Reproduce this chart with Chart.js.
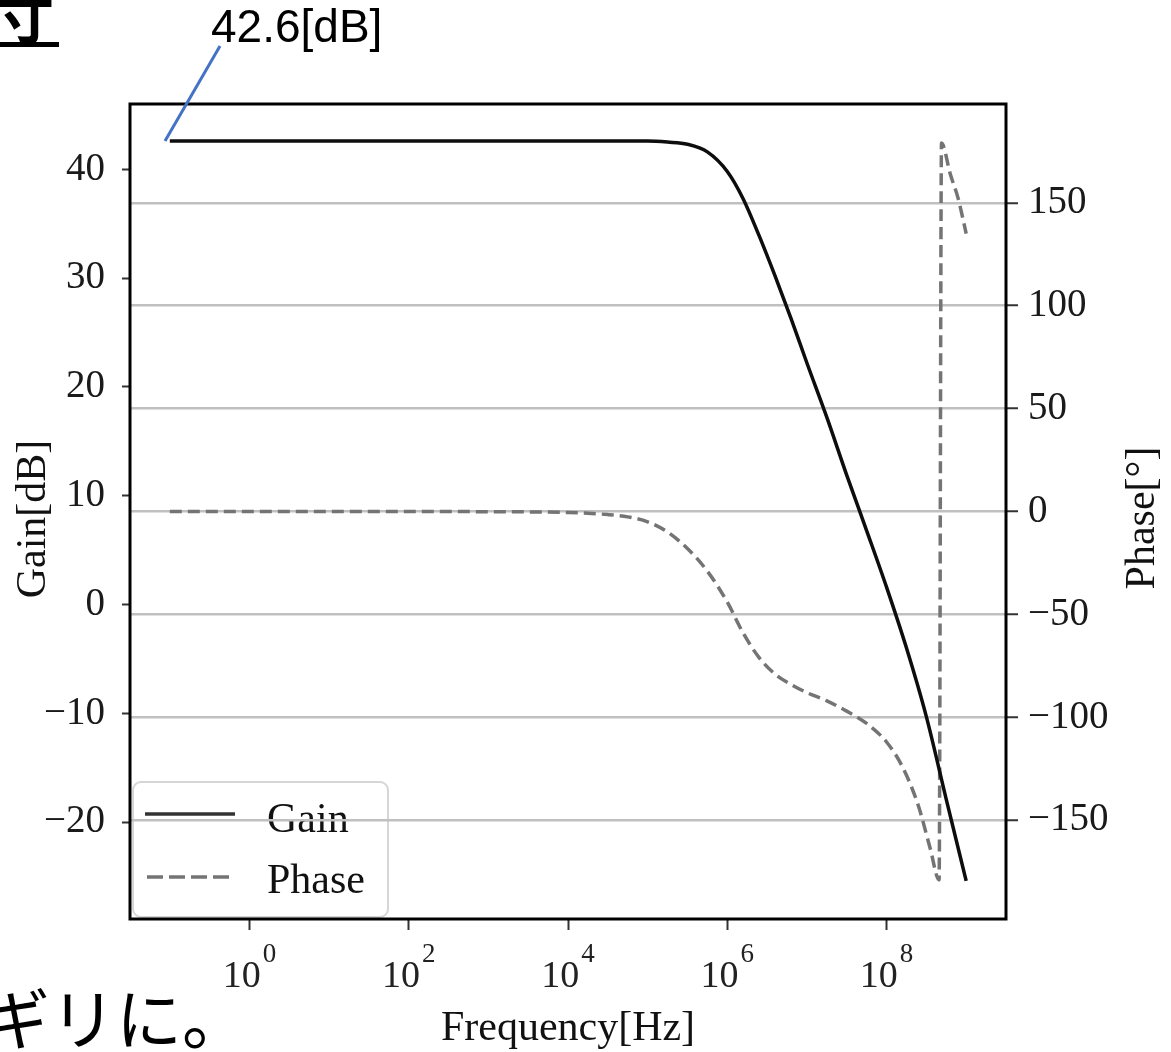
<!DOCTYPE html>
<html><head><meta charset="utf-8">
<script src="https://cdn.jsdelivr.net/npm/chart.js@4.4.1/dist/chart.umd.min.js"></script>
<style>html,body{margin:0;padding:0;background:#fff;overflow:hidden}canvas{display:block}</style>
</head><body>
<canvas id="c" width="1171" height="1052" style="width:1171px;height:1052px"></canvas>
<script>
// ---- data ----
const freqGain = [1e-1, 1e0, 1e1, 1e2, 1e3, 1e4, 1e5, 1.78e5, 3.16e5, 5.62e5, 1e6, 1.58e6, 2.51e6, 3.98e6, 6.31e6, 1e7, 1.78e7, 3.16e7, 5.62e7, 1e8, 1.78e8, 3.16e8, 5.62e8, 1e9];
const gainDb   = [42.6, 42.6, 42.6, 42.6, 42.6, 42.6, 42.6, 42.5, 42.3, 41.6, 39.8, 37.3, 33.9, 30.2, 26.3, 22.2, 17.2, 11.9, 6.8, 1.6, -4.0, -10.3, -17.9, -25.4];
const freqPhase = [1e-1, 1e0, 1e1, 1e2, 1e3, 1e4, 3.16e4, 5.62e4, 1e5, 1.78e5, 3.16e5, 5.62e5, 1e6, 1.58e6, 2.51e6, 3.98e6, 6.31e6, 1e7, 1.78e7, 3.16e7, 5.62e7, 1e8, 1.58e8, 2.51e8, 3.55e8, 4.57e8, 4.9e8, 6.31e8, 7.94e8, 1e9];
const phaseDeg  = [0, 0, 0, 0, -0.1, -0.5, -1.5, -2.6, -5, -10, -18, -29, -44, -59, -71, -79, -84, -88, -92, -97, -103, -112, -124, -143, -164, -179, 179, 164, 152, 135];
const gainTicks = [-20, -10, 0, 10, 20, 30, 40];
const phaseTicks = [-150, -100, -50, 0, 50, 100, 150];
const freqTicks = [1, 1e2, 1e4, 1e6, 1e8];
const freqTickExps = ['0', '2', '4', '6', '8'];
const seriesNames = ['Gain', 'Phase'];
const axisTitles = {x: 'Frequency[Hz]', yL: 'Gain[dB]', yR: 'Phase[°]'};
const annotationText = '42.6[dB]';
const pageTextTop = '寸';
const pageTextBottom = 'ギリに。';

// ---- styles ----
const SERIF = "'Liberation Serif','DejaVu Serif',serif";
const GAIN_COLOR = '#0d0d0d';
const PHASE_COLOR = '#747474';
const DASH = [12, 6];
const minus = v => String(v).replace('-', '\u2212');

const CANVAS_W = 1171, CANVAS_H = 1052;
const AREA = {left: 130, right: 1006, top: 104, bottom: 919};

const decor = {
  id: 'decor',
  beforeDraw(chart) {
    const ctx = chart.ctx;
    ctx.save();
    ctx.fillStyle = '#fff';
    ctx.fillRect(0, 0, CANVAS_W, CANVAS_H);
    // legend (drawn beneath grid lines, as in reference)
    const bx = 133, by = 782, bw = 255, bh = 135, r = 8;
    ctx.beginPath();
    ctx.moveTo(bx + r, by);
    ctx.arcTo(bx + bw, by, bx + bw, by + bh, r);
    ctx.arcTo(bx + bw, by + bh, bx, by + bh, r);
    ctx.arcTo(bx, by + bh, bx, by, r);
    ctx.arcTo(bx, by, bx + bw, by, r);
    ctx.closePath();
    ctx.fillStyle = 'rgba(255,255,255,0.9)';
    ctx.fill();
    ctx.strokeStyle = '#d6d6d6';
    ctx.lineWidth = 2;
    ctx.stroke();
    ctx.lineWidth = 3.5;
    ctx.strokeStyle = '#333';
    ctx.setLineDash([]);
    ctx.beginPath(); ctx.moveTo(145, 814); ctx.lineTo(235, 814); ctx.stroke();
    ctx.strokeStyle = PHASE_COLOR;
    ctx.setLineDash([16, 6]);
    ctx.beginPath(); ctx.moveTo(147, 877); ctx.lineTo(233, 877); ctx.stroke();
    ctx.setLineDash([]);
    ctx.fillStyle = '#111';
    ctx.font = '42px ' + SERIF;
    ctx.textBaseline = 'alphabetic';
    ctx.textAlign = 'left';
    ctx.fillText(seriesNames[0], 267, 832);
    ctx.fillText(seriesNames[1], 267, 893);
    ctx.restore();
  },
  afterDraw(chart) {
    const ctx = chart.ctx;
    const a = chart.chartArea;
    ctx.save();
    // frame
    ctx.strokeStyle = '#000';
    ctx.lineWidth = 3;
    ctx.strokeRect(a.left, a.top, a.right - a.left, a.bottom - a.top);
    // x tick labels 10^n
    const xs = chart.scales.x;
    ctx.fillStyle = '#222';
    ctx.textBaseline = 'alphabetic';
    ctx.textAlign = 'left';
    freqTicks.forEach((f, i) => {
      const px = xs.getPixelForValue(f);
      ctx.font = '38px ' + SERIF;
      const w1 = ctx.measureText('10').width;
      ctx.font = '27px ' + SERIF;
      const w2 = ctx.measureText(freqTickExps[i]).width;
      const start = px - (w1 + 2 + w2) / 2;
      ctx.font = '38px ' + SERIF;
      ctx.fillText('10', start, 987);
      ctx.font = '27px ' + SERIF;
      ctx.fillText(freqTickExps[i], start + w1 + 2, 962);
    });
    // axis titles
    ctx.font = '42px ' + SERIF;
    ctx.fillStyle = '#111';
    ctx.textAlign = 'center';
    ctx.fillText(axisTitles.x, (a.left + a.right) / 2, 1040);
    ctx.save();
    ctx.translate(45, 519);
    ctx.rotate(-Math.PI / 2);
    ctx.fillText(axisTitles.yL, 0, 0);
    ctx.restore();
    ctx.save();
    ctx.translate(1154, 518);
    ctx.rotate(-Math.PI / 2);
    ctx.fillText(axisTitles.yR, 0, 0);
    ctx.restore();
    // annotation
    ctx.strokeStyle = '#4472C4';
    ctx.lineWidth = 3;
    ctx.beginPath(); ctx.moveTo(220, 46); ctx.lineTo(165, 141); ctx.stroke();
    ctx.fillStyle = '#000';
    ctx.textAlign = 'left';
    ctx.font = "46px 'Liberation Sans','Arimo',Arial,sans-serif";
    ctx.fillText(annotationText, 211, 42);
    // surrounding page text
    ctx.font = "bold 58px 'Noto Sans CJK JP',sans-serif";
    ctx.fillText(pageTextTop, -4, 38);
    ctx.fillRect(0, 42, 59, 5);
    ctx.font = "66px 'Noto Sans CJK JP',sans-serif";
    ctx.fillText(pageTextBottom, -16, 1044);
    ctx.restore();
  }
};

new Chart(document.getElementById('c'), {
  type: 'line',
  data: {
    datasets: [
      {
        label: seriesNames[0],
        data: freqGain.map((f, i) => ({x: f, y: gainDb[i]})),
        yAxisID: 'yL',
        borderColor: GAIN_COLOR,
        borderWidth: 3.5,
        pointRadius: 0,
        cubicInterpolationMode: 'monotone',
        fill: false
      },
      {
        label: seriesNames[1],
        data: freqPhase.map((f, i) => ({x: f, y: phaseDeg[i]})),
        yAxisID: 'yR',
        borderColor: PHASE_COLOR,
        borderWidth: 3.5,
        borderDash: DASH,
        pointRadius: 0,
        cubicInterpolationMode: 'monotone',
        fill: false
      }
    ]
  },
  options: {
    responsive: false,
    animation: false,
    events: [],
    layout: {padding: {top: AREA.top, left: 0, right: 0, bottom: 0}},
    plugins: {legend: {display: false}, tooltip: {enabled: false}, title: {display: false}},
    scales: {
      x: {
        type: 'logarithmic',
        position: 'bottom',
        min: Math.pow(10, -1.5),
        max: Math.pow(10, 9.5),
        afterBuildTicks: s => { s.ticks = freqTicks.map(v => ({value: v})); },
        afterFit: s => { s.height = CANVAS_H - AREA.bottom; },
        ticks: {display: false},
        grid: {display: true, drawOnChartArea: false, drawTicks: true, tickLength: 11, tickColor: '#333', tickWidth: 2},
        border: {display: false}
      },
      yL: {
        type: 'linear',
        position: 'left',
        min: -28.9,
        max: 46.0,
        afterBuildTicks: s => { s.ticks = gainTicks.map(v => ({value: v})); },
        afterFit: s => { s.width = AREA.left; },
        ticks: {callback: v => minus(v), font: {family: SERIF, size: 39}, color: '#1a1a1a', padding: 17},
        grid: {display: true, drawOnChartArea: false, drawTicks: true, tickLength: 8, tickColor: '#333', tickWidth: 2},
        border: {display: false}
      },
      yR: {
        type: 'linear',
        position: 'right',
        min: -198,
        max: 198,
        afterBuildTicks: s => { s.ticks = phaseTicks.map(v => ({value: v})); },
        afterFit: s => { s.width = CANVAS_W - AREA.right; },
        ticks: {callback: v => minus(v), font: {family: SERIF, size: 39}, color: '#1a1a1a', padding: 10},
        grid: {display: true, drawOnChartArea: true, color: '#c0c0c0', lineWidth: 2.5, drawTicks: true, tickLength: 12, tickColor: '#333', tickWidth: 2},
        border: {display: false}
      }
    }
  },
  plugins: [decor]
});
</script>
</body></html>
